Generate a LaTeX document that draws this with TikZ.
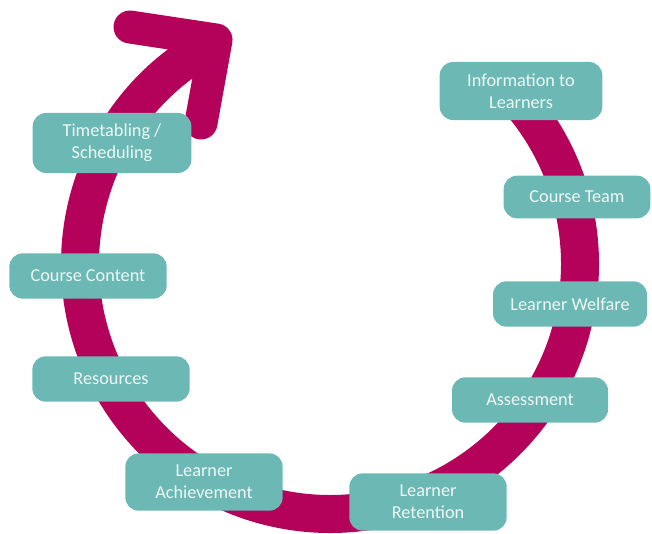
\documentclass[tikz,border=0pt]{standalone}
\usepackage{fontspec}
\setmainfont{Carlito}
\definecolor{cyclepink}{HTML}{B4025B}
\definecolor{stageteal}{HTML}{6CB8B4}
\definecolor{stagetext}{HTML}{EEF8F7}
\begin{document}
\begin{tikzpicture}[x=0.75pt,y=0.75pt,
  band/.style={draw=cyclepink, line width=28.5pt},
  head/.style={draw=cyclepink, line width=24.75pt, line join=round, line cap=round},
  stage/.style={fill=stageteal, rounded corners=10pt, text=stagetext, align=center,
    font=\fontsize{13.7}{16.5}\selectfont, inner sep=0pt,
    minimum width=118pt, minimum height=34pt},
  tall/.style={minimum height=43pt}]
\useasboundingbox (0,0) rectangle (652,533);
% the cycle: a wide arc with an open chevron head
\coordinate (hub) at (330,269);
\coordinate (tip) at (216,493);
\coordinate (larm) at (130,506);
\coordinate (rarm) at (201,410);
\draw[band] (hub) ++(40:250) arc[start angle=40, end angle=-240, radius=250];
\draw[head] (larm) -- (tip) -- (rarm);
% stages placed along the cycle
\node[stage, tall, minimum width=122pt, minimum height=43.5pt] (info) at (521,442) {Information to\\Learners};
\node[stage, minimum width=110pt, minimum height=32pt] (team) at (577,336) {Course Team};
\node[stage, minimum width=115.5pt] (welfare) at (570,229) {Learner Welfare};
\node[stage, minimum width=117pt] (assess) at (530,133) {Assessment};
\node[stage, tall] (retain) at (428,31) {Learner\\Retention};
\node[stage, tall] (achieve) at (204,51) {Learner\\Achievement};
\node[stage] (resrc) at (111,154) {Resources};
\node[stage] (content) at (88,257) {Course Content};
\node[stage, minimum width=119pt, minimum height=45pt] (timetab) at (112,390) {Timetabling /\\Scheduling};
\end{tikzpicture}
\end{document}
